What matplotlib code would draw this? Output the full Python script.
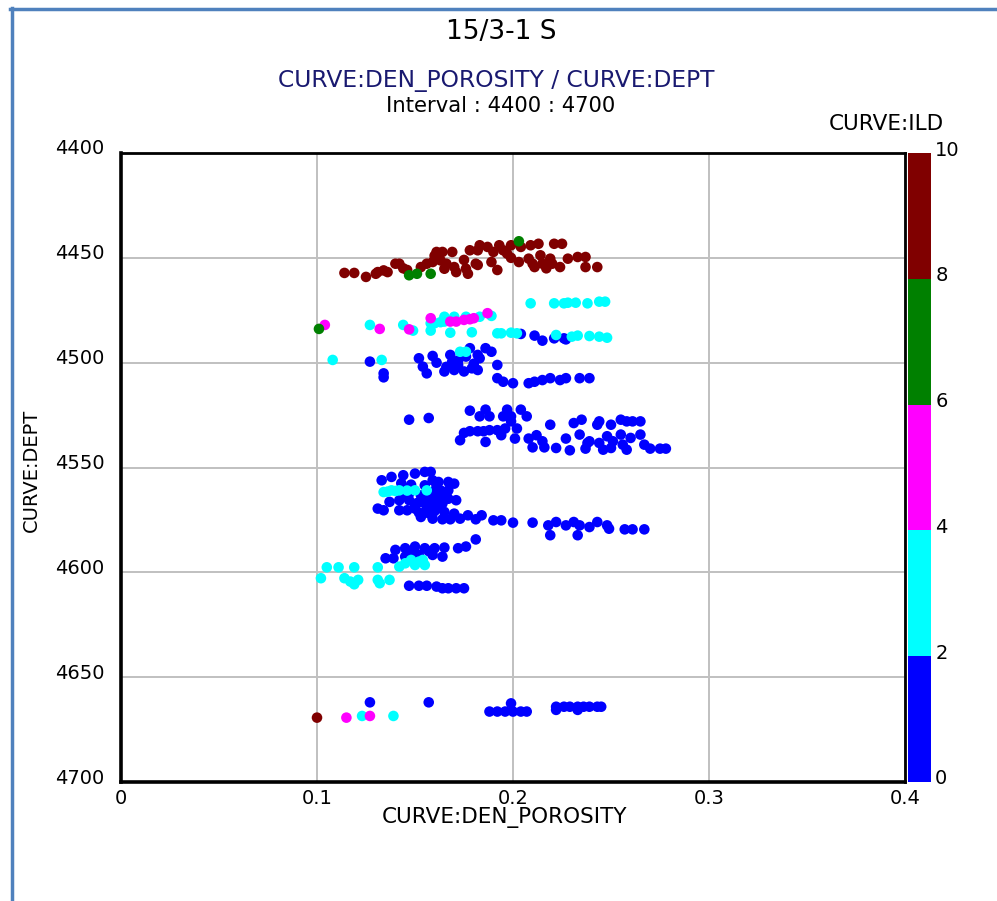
import matplotlib
matplotlib.use("Agg")
import matplotlib.pyplot as plt
from matplotlib.colors import ListedColormap, BoundaryNorm
import matplotlib.lines as mlines
import matplotlib.transforms as mtransforms

plt.rcParams['font.family'] = ['DejaVu Sans']

# ---------------- data ----------------
# maroon (ILD ~ 9)
por_maroon = [0.114,0.119,0.125,0.130,0.131,0.136,0.140,0.142,0.146,0.153,0.156,0.159,0.163,0.161,0.164,
              0.169,0.166,0.165,0.171,0.170,0.176,0.177,0.178,0.182,0.183,0.181,0.182,0.187,0.190,0.189,
              0.192,0.193,0.195,0.197,0.199,0.204,0.209,0.213,0.203,0.208,0.210,0.211,0.214,0.215,0.219,
              0.220,0.221,0.225,0.224,0.228,0.233,0.237,0.237,0.243,0.134,0.144,0.160,0.175,0.199,0.217,
              0.100]
dep_maroon = [4457.2,4457.2,4459.1,4457.6,4456.8,4456.8,4452.8,4452.8,4455.8,4454.4,4452.8,4452.0,4451.2,4447.2,4447.2,
              4447.2,4452.8,4455.2,4456.8,4454.4,4455.2,4457.6,4446.4,4446.4,4444.0,4452.8,4453.4,4444.8,4447.2,4452.0,
              4455.8,4444.0,4446.4,4448.0,4444.0,4444.8,4444.0,4443.3,4452.0,4450.4,4452.8,4454.4,4448.8,4452.8,4450.4,
              4452.8,4443.3,4443.3,4454.4,4450.4,4449.6,4449.6,4454.4,4454.4,4456.0,4455.0,4449.0,4451.0,4450.0,4455.0,
              4669.3]
ild_maroon = [9.0] * len(por_maroon)

# green (ILD ~ 7)
por_green = [0.147, 0.151, 0.158, 0.203, 0.101]
dep_green = [4458.3, 4457.6, 4457.6, 4442.1, 4483.9]
ild_green = [7.0] * len(por_green)

# magenta (ILD ~ 5)
por_magenta = [0.104, 0.132, 0.147, 0.158, 0.168, 0.171, 0.175, 0.178, 0.180, 0.187, 0.115, 0.127]
dep_magenta = [4482.0, 4483.9, 4484.1, 4478.8, 4480.4, 4480.4, 4479.6, 4479.3, 4478.8, 4476.4, 4669.3, 4668.5]
ild_magenta = [5.0] * len(por_magenta)

# cyan (ILD ~ 3)
por_cyan = [0.209,0.221,0.226,0.228,0.232,0.238,0.244,0.247,
            0.165,0.170,0.176,0.183,0.189,0.158,0.160,0.163,0.165,0.158,0.168,0.179,
            0.144,0.149,0.127,0.192,0.194,0.199,0.202,0.222,0.230,0.233,0.239,0.244,0.248,
            0.108,0.133,0.173,0.176,
            0.134,0.136,0.138,0.140,0.142,0.146,0.150,0.156,
            0.142,0.145,0.148,0.152,0.155,0.154,0.150,
            0.105,0.111,0.119,0.131,0.102,0.114,0.117,0.119,0.121,0.131,0.132,0.137,
            0.123,0.139]
dep_cyan = [4471.7,4471.7,4471.7,4471.4,4471.4,4471.7,4470.9,4470.9,
            4478.1,4478.1,4478.1,4478.1,4477.7,4481.2,4481.2,4480.7,4480.4,4484.7,4485.7,4485.5,
            4482.0,4484.7,4482.0,4486.0,4486.0,4485.7,4486.0,4486.8,4487.6,4487.1,4487.3,4487.6,4488.1,
            4498.7,4498.7,4494.8,4494.8,
            4561.7,4561.5,4560.9,4561.2,4560.9,4561.0,4560.9,4560.9,
            4597.3,4595.7,4594.1,4594.9,4596.5,4594.1,4596.5,
            4597.6,4597.6,4597.6,4597.6,4602.8,4602.8,4604.4,4605.7,4603.6,4603.6,4605.2,4603.6,
            4668.5,4668.5]
ild_cyan = [3.0] * len(por_cyan)

# blue (ILD ~ 1)
por_blue = [
    # 4486-4490 row
    0.204,0.211,0.215,0.221,0.226,0.227,
    # 4493-4510 cluster
    0.127,0.134,0.134,0.152,0.154,0.156,0.159,0.161,0.165,0.168,0.169,0.170,0.172,0.176,0.178,
    0.179,0.182,0.183,0.182,0.186,0.189,0.175,0.192,0.172,0.180,0.166,
    0.192,0.195,0.200,0.208,0.211,0.215,0.219,0.224,0.227,0.234,0.239,
    # 4522-4542 cluster
    0.147,0.157,0.178,0.186,0.183,0.188,0.197,0.195,0.199,0.199,0.204,0.207,
    0.175,0.178,0.182,0.185,0.188,0.192,0.196,0.202,0.173,0.186,0.194,0.201,0.208,0.212,0.215,
    0.210,0.216,0.219,0.222,0.227,0.229,0.231,0.235,0.234,0.237,0.239,0.243,0.244,0.244,0.246,
    0.248,0.250,0.251,0.255,0.258,0.261,0.265,0.255,0.260,0.265,0.256,0.258,0.267,0.270,0.275,
    0.278,0.250,0.238,
    # 4552-4584 cluster
    0.133,0.138,0.144,0.150,0.155,0.158,0.159,0.162,0.167,0.170,
    0.147,0.153,0.159,0.163,0.167,0.155,0.161,
    0.137,0.142,0.147,0.153,0.158,0.163,0.167,0.171,
    0.131,0.134,0.142,0.146,0.150,0.156,0.161,0.165,0.170,
    0.153,0.159,0.164,0.168,0.173,0.177,0.181,0.184,0.190,0.194,0.200,0.210,
    0.218,0.222,0.227,0.231,0.234,0.239,0.243,0.248,0.249,0.257,0.261,0.267,0.219,0.233,
    0.181,0.150,0.156,0.160,0.152,0.157,0.145,0.166,0.162,0.148,0.143,
    0.154,0.158,0.162,0.151,0.156,0.160,0.164,
    # 4587-4593 cluster
    0.140,0.145,0.150,0.155,0.160,0.165,0.172,0.176,0.135,0.139,0.145,0.152,0.159,0.164,0.157,0.149,
    # 4606-4608 row
    0.147,0.152,0.156,0.161,0.164,0.167,0.171,0.175,
    # bottom
    0.127,0.157,0.199,0.188,0.192,0.196,0.200,0.204,0.207,
    0.222,0.226,0.229,0.233,0.236,0.239,0.243,0.245,0.222,0.233]
dep_blue = [
    4486.3,4487.1,4489.5,4488.4,4488.4,4488.9,
    4499.5,4505.1,4507.0,4497.9,4501.9,4505.1,4496.8,4500.0,4504.2,4496.3,4499.5,4503.5,4501.1,4497.1,4493.1,
    4502.7,4496.3,4497.9,4503.5,4493.1,4494.8,4504.2,4501.1,4499.0,4500.5,4502.0,
    4507.4,4509.1,4509.8,4509.8,4509.1,4508.3,4507.4,4508.3,4507.4,4507.4,4507.4,
    4527.2,4526.4,4522.9,4522.4,4525.6,4525.6,4522.4,4525.6,4525.6,4528.0,4522.4,4525.6,
    4533.5,4532.7,4532.7,4532.7,4532.2,4532.2,4531.4,4531.4,4537.0,4537.8,4534.6,4536.2,4536.2,4534.6,4537.5,
    4540.4,4540.4,4529.6,4540.7,4536.2,4541.8,4528.8,4527.2,4534.3,4541.0,4537.5,4529.6,4528.0,4538.3,4541.5,
    4535.1,4529.6,4537.5,4527.2,4528.0,4528.0,4528.0,4534.3,4535.9,4534.3,4539.1,4541.5,4539.1,4541.0,4541.0,
    4541.0,4540.7,4538.3,
    4556.1,4554.5,4553.7,4552.9,4552.1,4552.1,4556.1,4556.9,4556.9,4557.7,
    4562.5,4563.3,4561.7,4560.9,4560.9,4558.5,4559.0,
    4566.4,4565.6,4565.6,4566.4,4565.6,4564.9,4564.9,4565.6,
    4569.6,4570.4,4570.4,4570.4,4569.6,4569.6,4569.6,4571.2,4572.0,
    4573.6,4574.4,4574.7,4574.7,4574.4,4572.8,4574.7,4572.8,4575.2,4575.2,4576.3,4576.3,
    4577.6,4576.0,4577.6,4576.0,4577.6,4578.4,4576.0,4577.6,4579.2,4579.5,4579.5,4579.5,4582.3,4582.3,
    4584.3,4567.8,4568.2,4567.5,4571.5,4571.8,4563.0,4563.5,4568.9,4558.2,4557.5,
    4563.8,4562.8,4564.0,4567.0,4566.8,4570.8,4567.2,
    4589.3,4588.5,4587.7,4588.5,4588.5,4588.2,4588.5,4587.7,4593.3,4593.3,4592.5,4591.7,4591.7,4592.5,4589.9,4590.6,
    4606.4,4606.4,4606.4,4606.8,4607.6,4607.6,4607.6,4607.6,
    4662.0,4662.0,4662.5,4666.4,4666.4,4666.4,4666.4,4666.4,4666.4,
    4664.1,4664.1,4664.1,4664.1,4664.1,4664.1,4664.1,4664.1,4665.6,4665.6]
ild_blue = [1.0] * len(por_blue)

x_ticks = [0, 0.1, 0.2, 0.3, 0.4]
x_ticklabels = ["0", "0.1", "0.2", "0.3", "0.4"]
y_ticks = [4400, 4450, 4500, 4550, 4600, 4650, 4700]
cb_bounds = [0, 2, 4, 6, 8, 10]
cb_colors = ['#0000ff', '#00ffff', '#ff00ff', '#008000', '#800000']

# ---------------- figure ----------------
W, H = 997, 901
fig = plt.figure(figsize=(W / 100, H / 100), dpi=100)

def fx(px):
    return px / W

def fy(py):
    return 1 - py / H

ax = fig.add_axes([fx(121), fy(782), fx(905) - fx(121), fy(153) - fy(782)])
cax = fig.add_axes([fx(908), fy(782), fx(931) - fx(908), fy(153) - fy(782)])

cmap = ListedColormap(cb_colors)
norm = BoundaryNorm(cb_bounds, cmap.N)

groups = [(por_blue, dep_blue, ild_blue),
          (por_cyan, dep_cyan, ild_cyan),
          (por_magenta, dep_magenta, ild_magenta),
          (por_maroon, dep_maroon, ild_maroon),
          (por_green, dep_green, ild_green)]
for p, d, v in groups:
    ax.scatter(p, d, c=v, cmap=cmap, norm=norm, s=58, linewidths=0, zorder=3)

ax.set_xlim(0, 0.4)
ax.set_ylim(4700, 4400)
ax.set_xticks(x_ticks)
ax.set_xticklabels(x_ticklabels)
ax.set_yticks(y_ticks)
ax.grid(True, color='#c0c0c0', linewidth=1.4, zorder=0)
ax.tick_params(length=0, labelsize=14, pad=12)
ax.tick_params(axis='x', pad=5)
for side in ['left', 'bottom']:
    ax.spines[side].set_linewidth(2.6)
for side in ['top', 'right']:
    ax.spines[side].set_linewidth(2.0)

up_y = mtransforms.ScaledTranslation(0, 6 / 100, fig.dpi_scale_trans)
for lab in ax.get_yticklabels():
    lab.set_transform(lab.get_transform() + up_y)

fig.text(fx(504), fy(818), "CURVE:DEN_POROSITY", fontsize=15.5, ha='center', va='center')
fig.text(fx(31), fy(470), "CURVE:DEPT", rotation=90, fontsize=14, ha='center', va='center')

# colorbar
cb = fig.colorbar(plt.cm.ScalarMappable(norm=norm, cmap=cmap), cax=cax, ticks=cb_bounds)
cb.outline.set_visible(False)
cax.tick_params(length=0, labelsize=14, pad=3)
up_c = mtransforms.ScaledTranslation(0, 5 / 100, fig.dpi_scale_trans)
for lab in cax.get_yticklabels():
    lab.set_transform(lab.get_transform() + up_c)

fig.text(fx(886), fy(124), "CURVE:ILD", fontsize=15.5, ha='center', va='center')

# titles
fig.text(fx(501), fy(32), "15/3-1 S", fontsize=19, ha='center', va='center')
fig.text(fx(496), fy(80), "CURVE:DEN_POROSITY / CURVE:DEPT", fontsize=16.8, ha='center', va='center', color='#191970')
fig.text(fx(501), fy(106), "Interval : 4400 : 4700", fontsize=15.2, ha='center', va='center')

# frame lines (left and top)
fig.add_artist(mlines.Line2D([fx(11.5), fx(11.5)], [0, fy(8)], color='#4f81bd', linewidth=2.5, transform=fig.transFigure))
fig.add_artist(mlines.Line2D([fx(10), 1], [fy(8.5), fy(8.5)], color='#4f81bd', linewidth=2.5, transform=fig.transFigure))

fig.savefig("out.png", dpi=100)
